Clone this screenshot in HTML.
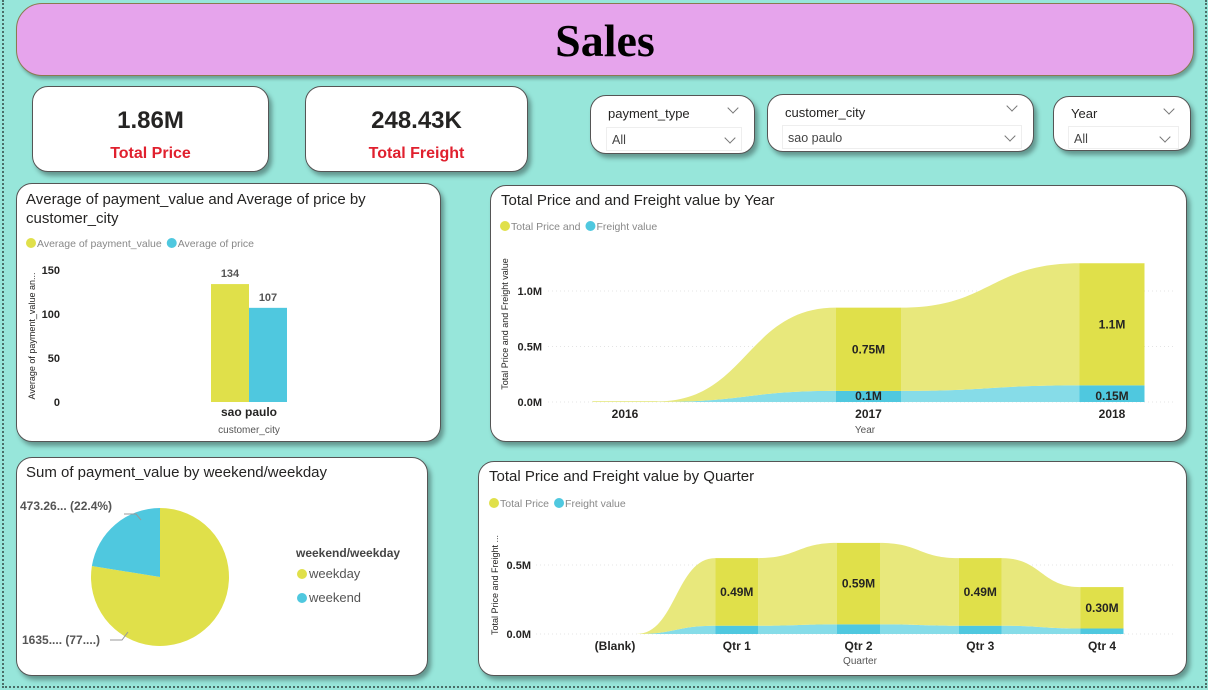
<!DOCTYPE html>
<html><head><meta charset="utf-8">
<style>
*{box-sizing:border-box;margin:0;padding:0}
body{width:1208px;height:690px;background:#97E6DA;position:relative;overflow:hidden;font-family:"Liberation Sans",sans-serif;}
.frame{position:absolute;left:2px;top:0;width:1205px;height:688px;border:2px dotted #4a6e68;border-top:none}
.card{position:absolute;background:#fff;border:1px solid #555;border-radius:16px;box-shadow:3px 4px 5px rgba(0,0,0,.35)}
.ttl{position:absolute;font-size:15px;color:#252423}
.kv{position:absolute;width:100%;text-align:center;font-weight:bold}
.sl{position:absolute;font-size:13px;color:#252423}
.box{position:absolute;border:1px solid #eee;font-size:12.5px;color:#444;padding:5px 0 0 5px}
.chev{position:absolute;width:8px;height:8px;border-right:1px solid #777;border-bottom:1px solid #777;transform:rotate(45deg)}
svg text{font-family:"Liberation Sans",sans-serif}
</style></head><body>
<div class="frame"></div>
<div style="position:absolute;left:16px;top:3px;width:1178px;height:73px;background:#E6A4EC;border:1px solid #8a7a50;border-radius:26px;box-shadow:2px 3px 3px rgba(0,0,0,.3);text-align:center;font-family:'Liberation Serif',serif;font-weight:bold;font-size:46px;line-height:73px;color:#000"><span>Sales</span></div>

<div class="card" style="left:32px;top:86px;width:237px;height:86px">
<div class="kv" style="top:20px;font-size:24px;color:#252423">1.86M</div>
<div class="kv" style="top:58px;font-size:16px;color:#E0202E">Total Price</div></div>
<div class="card" style="left:305px;top:86px;width:223px;height:86px">
<div class="kv" style="top:20px;font-size:24px;color:#252423">248.43K</div>
<div class="kv" style="top:58px;font-size:16px;color:#E0202E">Total Freight</div></div>

<div class="card" style="left:590px;top:95px;width:165px;height:59px">
<div class="sl" style="left:17px;top:10px">payment_type</div><div class="chev" style="left:138px;top:8px"></div>
<div class="box" style="left:15px;top:31px;width:136px;height:24px">All</div><div class="chev" style="left:135px;top:38px"></div></div>
<div class="card" style="left:767px;top:94px;width:267px;height:58px">
<div class="sl" style="left:17px;top:10px">customer_city</div><div class="chev" style="left:240px;top:7px"></div>
<div class="box" style="left:14px;top:30px;width:240px;height:24px">sao paulo</div><div class="chev" style="left:238px;top:37px"></div></div>
<div class="card" style="left:1053px;top:96px;width:138px;height:55px">
<div class="sl" style="left:17px;top:9px">Year</div><div class="chev" style="left:111px;top:8px"></div>
<div class="box" style="left:14px;top:29px;width:111px;height:23px">All</div><div class="chev" style="left:107px;top:36px"></div></div>

<div class="card" style="left:16px;top:183px;width:425px;height:259px">
<div class="ttl" style="left:9px;top:6px;line-height:19px">Average of payment_value and Average of price by<br>customer_city</div></div>
<div class="card" style="left:490px;top:185px;width:697px;height:257px">
<div class="ttl" style="left:10px;top:6px">Total Price and and Freight value by Year</div></div>
<div class="card" style="left:16px;top:457px;width:412px;height:219px">
<div class="ttl" style="left:9px;top:6px">Sum of payment_value by weekend/weekday</div></div>
<div class="card" style="left:478px;top:461px;width:709px;height:215px">
<div class="ttl" style="left:10px;top:6px">Total Price and Freight value by Quarter</div></div>

<svg id="svg" width="1208" height="690" style="position:absolute;left:0;top:0"></svg>

<script>
// bar chart data
const barCats=["sao paulo"];
const barPayment=[134];
const barPrice=[107];
const barTicks=[0,50,100,150];
// year ribbon data
const yearCats=["2016","2017","2018"];
const yearPrice=[0.005,0.75,1.1];
const yearFreight=[0.001,0.1,0.15];
const yearPriceLabels=["","0.75M","1.1M"];
const yearFreightLabels=["","0.1M","0.15M"];
const yearTicks=[0,0.5,1.0];
// quarter ribbon data
const qCats=["(Blank)","Qtr 1","Qtr 2","Qtr 3","Qtr 4"];
const qPrice=[0,0.49,0.59,0.49,0.30];
const qFreight=[0,0.06,0.07,0.06,0.04];
const qPriceLabels=["","0.49M","0.59M","0.49M","0.30M"];
const qTicks=[0,0.5];
// pie data
const pieCats=["weekday","weekend"];
const pieVals=[1635.0,473.26];
const pieLabels=["1635.... (77....)","473.26... (22.4%)"];

const NS="http://www.w3.org/2000/svg";
const svg=document.getElementById('svg');
function mk(tag,attrs,parent){const e=document.createElementNS(NS,tag);for(const k in attrs)e.setAttribute(k,attrs[k]);(parent||svg).appendChild(e);return e;}
function txt(x,y,s,attrs){const t=mk('text',Object.assign({x:x,y:y,'font-size':12,fill:'#252423'},attrs||{}));t.textContent=s;return t;}
const Y='#E0E04A',YL='#E8E87C',B='#4FC8DF',BL='#86DCE8';

function legend(x,y,items){let cx=x;items.forEach(([label,c],i)=>{
  const d=mk('circle',{cx:cx+5,cy:y,r:5,fill:c});
  
  
  const t=txt(cx+11,y+4,label,{'font-size':10.5,fill:'#888'});
  
  
  cx+=11+t.getComputedTextLength()+5;});}

// ---- Bar chart
(function(){
  const y0=402,k=132/150,xc=249,bw=38;
  const ys=v=>y0-v*k;
  legend(26,243,[["Average of payment_value",Y],["Average of price",B]]);
  barTicks.forEach(t=>{const e=txt(60,ys(t)+4,String(t),{'text-anchor':'end','font-size':11,'font-weight':'bold'});
    });
  const at=txt(0,0,"Average of payment_value an...",{'font-size':9,transform:`translate(35,${336}) rotate(-90)`,'text-anchor':'middle'});
  
  barCats.forEach((c,i)=>{
    const r1=mk('rect',{x:xc-bw,y:ys(barPayment[i]),width:bw,height:barPayment[i]*k,fill:Y});
    
    const r2=mk('rect',{x:xc,y:ys(barPrice[i]),width:bw,height:barPrice[i]*k,fill:B});
    
    txt(xc-bw/2,ys(barPayment[i])-7,String(barPayment[i]),{'text-anchor':'middle','font-size':11,'font-weight':'bold',fill:'#555'});
    txt(xc+bw/2,ys(barPrice[i])-7,String(barPrice[i]),{'text-anchor':'middle','font-size':11,'font-weight':'bold',fill:'#555'});
    const cl=txt(xc,416,c,{'text-anchor':'middle','font-weight':'bold'});
    
  });
  const xt=txt(249,433,"customer_city",{'text-anchor':'middle','font-size':10,fill:'#555'});
  
})();

// ---- ribbon helper
function ribbon(cats,price,freight,opt){
  const xs=i=>opt.x0+i*opt.dx, ys=v=>opt.y0-v*opt.k, w=opt.w;
  opt.ticks.forEach(t=>{
    mk('line',{x1:opt.gx0,x2:opt.gx1,y1:ys(t),y2:ys(t),stroke:'#e4e4e4','stroke-dasharray':'1,3'});
    const e=txt(opt.tx,ys(t)+4,t.toFixed(1)+'M',{'text-anchor':'end','font-size':11,'font-weight':'bold'});
    
  });
  function band(lo,hi,fill,name){
    for(let i=0;i<cats.length-1;i++){
      const xa=xs(i)+w/2,xb=xs(i+1)-w/2,m=(xa+xb)/2;
      const a1=ys(hi[i]),b1=ys(hi[i+1]),a0=ys(lo[i]),b0=ys(lo[i+1]);
      const p=mk('path',{d:`M${xa},${a1} C${m},${a1} ${m},${b1} ${xb},${b1} L${xb},${b0} C${m},${b0} ${m},${a0} ${xa},${a0} Z`,fill:fill[1]});
      
    }
    cats.forEach((c,i)=>{
      const r=mk('rect',{x:xs(i)-w/2,y:ys(hi[i]),width:w,height:Math.max(0,ys(lo[i])-ys(hi[i])),fill:fill[0]});
      
    });
  }
  const zero=cats.map(()=>0), tot=cats.map((c,i)=>price[i]+freight[i]);
  band(zero,freight,[B,BL],'freight');
  band(freight,tot,[Y,YL],'price');
  cats.forEach((c,i)=>{
    if(opt.pl[i]){const e=txt(xs(i),(ys(freight[i])+ys(tot[i]))/2+4,opt.pl[i],{'text-anchor':'middle','font-size':12,'font-weight':'bold'});
      }
    if(opt.fl&&opt.fl[i]){const e=txt(xs(i),opt.y0-2,opt.fl[i],{'text-anchor':'middle','font-size':12,'font-weight':'bold'});
      }
    const l=txt(xs(i),opt.y0+16,c,{'text-anchor':'middle','font-size':12,'font-weight':'bold'});
    
  });
}

legend(500,226,[["Total Price and",Y],["Freight value",B]]);
ribbon(yearCats,yearPrice,yearFreight,{x0:625,dx:243.5,y0:402,k:111,w:65,ticks:yearTicks,tx:542,gx0:548,gx1:1175,pl:yearPriceLabels,fl:yearFreightLabels});
(function(){const a=txt(0,0,"Total Price and and Freight value",{'font-size':9,transform:'translate(508,324) rotate(-90)','text-anchor':'middle'});

const x=txt(865,433,"Year",{'text-anchor':'middle','font-size':10,fill:'#555'});})();

legend(489,503,[["Total Price",Y],["Freight value",B]]);
ribbon(qCats,qPrice,qFreight,{x0:615,dx:121.75,y0:634,k:138,w:43,ticks:qTicks,tx:531,gx0:536,gx1:1175,pl:qPriceLabels,fl:null});
(function(){const a=txt(0,0,"Total Price and Freight ...",{'font-size':9,transform:'translate(498,585) rotate(-90)','text-anchor':'middle'});

const x=txt(860,664,"Quarter",{'text-anchor':'middle','font-size':10,fill:'#555'});})();

// ---- Pie
(function(){
  const cx=160,cy=577,r=69,total=pieVals.reduce((a,b)=>a+b,0);
  const cols=[Y,B];
  const wkA=pieVals[1]/total*2*Math.PI;
  const pt=a=>[cx+r*Math.sin(a),cy-r*Math.cos(a)];
  const slices=[[0,2*Math.PI-wkA,0],[2*Math.PI-wkA,2*Math.PI,1]];
  slices.forEach(([a0,a1,i])=>{
    const p0=pt(a0),p1=pt(a1),large=(a1-a0)>Math.PI?1:0;
    const s=mk('path',{d:`M${cx},${cy} L${p0[0]},${p0[1]} A${r},${r} 0 ${large} 1 ${p1[0]},${p1[1]} Z`,fill:cols[i]});
    
    
  });
  mk('polyline',{points:'124,514 136,514 141,520',fill:'none',stroke:'#999'});
  mk('polyline',{points:'110,640 122,640 128,632',fill:'none',stroke:'#999'});
  const l1=txt(20,510,pieLabels[1],{'font-size':12,'font-weight':'bold',fill:'#555'});
  
  const l2=txt(22,644,pieLabels[0],{'font-size':12,'font-weight':'bold',fill:'#555'});
  
  const lt=txt(296,557,"weekend/weekday",{'font-size':12,'font-weight':'bold',fill:'#444'});
  
  pieCats.forEach((c,i)=>{
    const d=mk('circle',{cx:302,cy:574+i*24,r:5,fill:cols[i]});
    
    const t=txt(309,578+i*24,c,{'font-size':13,fill:'#555'});
    
  });
})();
</script>
</body></html>
